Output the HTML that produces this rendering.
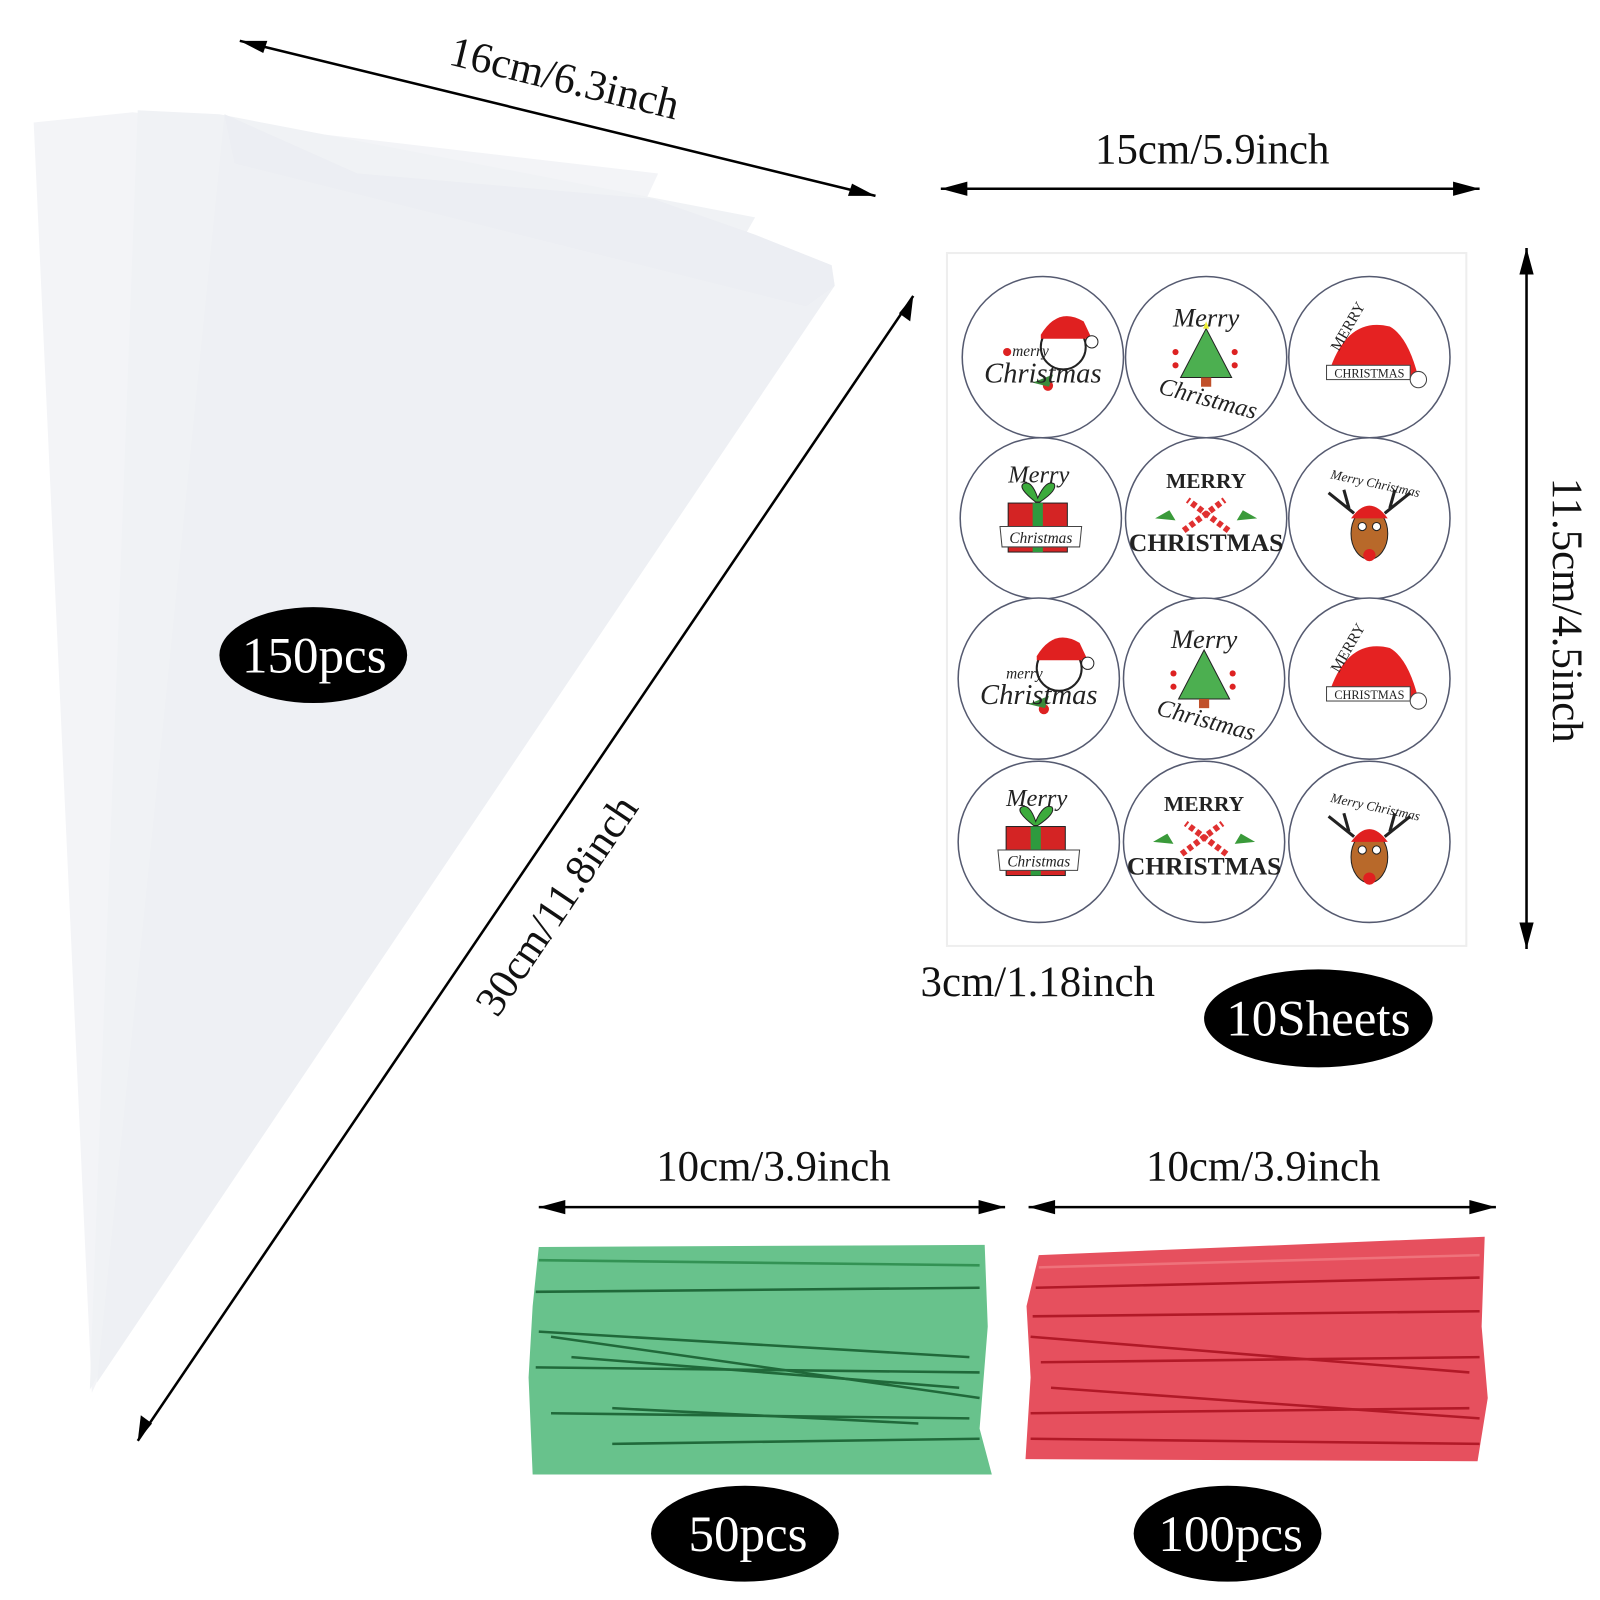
<!DOCTYPE html>
<html><head><meta charset="utf-8"><style>
html,body{margin:0;padding:0;background:#fff;width:1600px;height:1600px;overflow:hidden}
svg{display:block}
text{font-family:"Liberation Serif",serif}
</style></head><body>
<svg width="1600" height="1600" viewBox="0 0 1568 1568" xmlns="http://www.w3.org/2000/svg">
<rect width="1568" height="1568" fill="#fff"/>
<!-- cone bags -->
<polygon points="33,120 130,110 645,170 90,1365" fill="#f3f4f7"/>
<polygon points="135,108 215,112 740,213 88,1362" fill="#f0f2f5"/>
<polygon points="220,112 350,170 640,195 740,230 815,260 818,280 95,1355" fill="#eef0f4"/>
<polygon points="220,112 350,170 640,195 740,230 815,260 818,280 790,300 230,160" fill="#e9ecf1" opacity="0.5"/>
<!-- dimension arrows -->
<g stroke="#000" stroke-width="2.5" fill="none">
<line x1="235" y1="40" x2="858" y2="192"/>
<line x1="895" y1="290" x2="135" y2="1412"/>
<line x1="922" y1="185" x2="1450" y2="185"/>
<line x1="1496" y1="243" x2="1496" y2="930"/>
<line x1="940" y1="915" x2="1103" y2="915"/>
<line x1="528" y1="1183" x2="985" y2="1183"/>
<line x1="1008" y1="1183" x2="1466" y2="1183"/>
</g>
<g fill="#000">
<polygon points="235,40 262,40 258,52"/><polygon points="858,192 831,192 835,180"/>
<polygon points="895,290 892,315 881,307"/><polygon points="135,1412 138,1387 149,1395"/>
<polygon points="922,185 948,178 948,192"/><polygon points="1450,185 1424,178 1424,192"/>
<polygon points="1496,243 1489,269 1503,269"/><polygon points="1496,930 1489,904 1503,904"/>
<polygon points="940,915 962,909 962,921"/><polygon points="1103,915 1081,909 1081,921"/>
<polygon points="528,1183 554,1176 554,1190"/><polygon points="985,1183 959,1176 959,1190"/>
<polygon points="1008,1183 1034,1176 1034,1190"/><polygon points="1466,1183 1440,1176 1440,1190"/>
</g>
<g font-size="42" fill="#111" text-anchor="middle">
<text transform="translate(550,90) rotate(13.7)">16cm/6.3inch</text>
<text transform="translate(557,895) rotate(-56)">30cm/11.8inch</text>
<text x="1188" y="160">15cm/5.9inch</text>
<text transform="translate(1522,598) rotate(90)">11.5cm/4.5inch</text>
<text x="1017" y="976">3cm/1.18inch</text>
<text x="758" y="1157">10cm/3.9inch</text>
<text x="1238" y="1157">10cm/3.9inch</text>
</g>
<!-- sticker sheet -->
<rect x="928" y="248" width="509" height="679" fill="#fff" stroke="#eee" stroke-width="2"/>
<g fill="#fff" stroke="#555a70" stroke-width="1.5">
<circle cx="1022" cy="350" r="79"/><circle cx="1182" cy="350" r="79"/><circle cx="1342" cy="350" r="79"/>
<circle cx="1020" cy="508" r="79"/><circle cx="1182" cy="508" r="79"/><circle cx="1342" cy="508" r="79"/>
<circle cx="1018" cy="665" r="79"/><circle cx="1180" cy="665" r="79"/><circle cx="1342" cy="665" r="79"/>
<circle cx="1018" cy="825" r="79"/><circle cx="1180" cy="825" r="79"/><circle cx="1342" cy="825" r="79"/>
</g>
<g transform="translate(1022,350)">
<circle cx="20" cy="-10" r="22" fill="#fff" stroke="#222" stroke-width="2"/>
<path d="M-2,-22 Q15,-50 40,-35 L48,-18 L-2,-18 z" fill="#e02020"/><circle cx="48" cy="-15" r="6" fill="#fff" stroke="#222"/>
<circle cx="-35" cy="-5" r="4" fill="#d22"/><circle cx="5" cy="28" r="5" fill="#d22"/><path d="M-10,25 l20,-8 l-4,12z" fill="#3a8a3a"/>
<text x="-30" y="-1" font-size="15" font-style="italic" fill="#222">merry</text>
<text x="0" y="25" font-size="28" font-style="italic" fill="#222" text-anchor="middle">Christmas</text>
</g>
<g transform="translate(1018,665)">
<circle cx="20" cy="-10" r="22" fill="#fff" stroke="#222" stroke-width="2"/>
<path d="M-2,-22 Q15,-50 40,-35 L48,-18 L-2,-18 z" fill="#e02020"/><circle cx="48" cy="-15" r="6" fill="#fff" stroke="#222"/>
<circle cx="5" cy="30" r="5" fill="#d22"/><path d="M-10,25 l20,-8 l-4,12z" fill="#3a8a3a"/>
<text x="-32" y="0" font-size="15" font-style="italic" fill="#222">merry</text>
<text x="0" y="25" font-size="28" font-style="italic" fill="#222" text-anchor="middle">Christmas</text>
</g>
<g transform="translate(1182,350)">
<text x="0" y="-30" font-size="26" font-style="italic" fill="#222" text-anchor="middle">Merry</text>
<polygon points="0,-28 -25,20 25,20" fill="#4caf50" stroke="#222"/><rect x="-5" y="20" width="10" height="9" fill="#c0502a"/>
<polygon points="0,-35 3,-28 -3,-28" fill="#ee3"/>
<circle cx="-30" cy="-5" r="3" fill="#d22"/><circle cx="28" cy="-5" r="3" fill="#d22"/><circle cx="-30" cy="8" r="3" fill="#d22"/><circle cx="28" cy="8" r="3" fill="#d22"/>
<text transform="translate(0,48) rotate(15)" font-size="24" font-style="italic" fill="#222" text-anchor="middle">Christmas</text>
</g>
<g transform="translate(1180,665)">
<text x="0" y="-30" font-size="26" font-style="italic" fill="#222" text-anchor="middle">Merry</text>
<polygon points="0,-28 -25,20 25,20" fill="#4caf50" stroke="#222"/><rect x="-5" y="20" width="10" height="9" fill="#c0502a"/>
<circle cx="-30" cy="-5" r="3" fill="#d22"/><circle cx="28" cy="-5" r="3" fill="#d22"/><circle cx="-30" cy="8" r="3" fill="#d22"/><circle cx="28" cy="8" r="3" fill="#d22"/>
<text transform="translate(0,48) rotate(15)" font-size="24" font-style="italic" fill="#222" text-anchor="middle">Christmas</text>
</g>
<g transform="translate(1342,350)">
<path d="M-38,10 Q-20,-40 20,-30 Q38,-20 48,20 L-38,10 z" fill="#e52222"/>
<rect x="-42" y="8" width="82" height="14" fill="#fff" stroke="#444"/>
<circle cx="48" cy="22" r="8" fill="#fff" stroke="#444"/>
<text transform="translate(-30,-5) rotate(-60)" font-size="15" fill="#222">MERRY</text>
<text x="0" y="20" font-size="12" fill="#222" text-anchor="middle">CHRISTMAS</text>
</g>
<g transform="translate(1342,665)">
<path d="M-38,10 Q-20,-40 20,-30 Q38,-20 48,20 L-38,10 z" fill="#e52222"/>
<rect x="-42" y="8" width="82" height="14" fill="#fff" stroke="#444"/>
<circle cx="48" cy="22" r="8" fill="#fff" stroke="#444"/>
<text transform="translate(-30,-5) rotate(-60)" font-size="15" fill="#222">MERRY</text>
<text x="0" y="20" font-size="12" fill="#222" text-anchor="middle">CHRISTMAS</text>
</g>
<g transform="translate(1020,508)">
<text x="-2" y="-35" font-size="24" font-style="italic" fill="#222" text-anchor="middle">Merry</text>
<rect x="-32" y="-15" width="58" height="48" fill="#d42424" stroke="#222"/><rect x="-8" y="-15" width="10" height="48" fill="#2e9a3e"/>
<path d="M-5,-16 q-18,-14 -12,-18 q8,-4 14,14 q8,-18 16,-14 q4,6 -14,18z" fill="#3cab3c" stroke="#222"/>
<path d="M-40,8 L40,8 L38,28 L-38,28z" fill="#fff" stroke="#444"/>
<text x="0" y="24" font-size="15" font-style="italic" fill="#222" text-anchor="middle">Christmas</text>
</g>
<g transform="translate(1018,825)">
<text x="-2" y="-35" font-size="24" font-style="italic" fill="#222" text-anchor="middle">Merry</text>
<rect x="-32" y="-15" width="58" height="48" fill="#d42424" stroke="#222"/><rect x="-8" y="-15" width="10" height="48" fill="#2e9a3e"/>
<path d="M-5,-16 q-18,-14 -12,-18 q8,-4 14,14 q8,-18 16,-14 q4,6 -14,18z" fill="#3cab3c" stroke="#222"/>
<path d="M-40,8 L40,8 L38,28 L-38,28z" fill="#fff" stroke="#444"/>
<text x="0" y="24" font-size="15" font-style="italic" fill="#222" text-anchor="middle">Christmas</text>
</g>
<g transform="translate(1182,508)">
<text x="0" y="-30" font-size="21" font-weight="bold" fill="#222" text-anchor="middle">MERRY</text>
<path d="M-22,12 L18,-18 M22,12 L-18,-18" stroke="#e03030" stroke-width="6" stroke-dasharray="5,3"/>
<path d="M-50,0 l14,-8 l6,10z M50,0 l-14,-8 l-6,10z" fill="#3a9a3a"/>
<text x="0" y="32" font-size="25" font-weight="bold" fill="#222" text-anchor="middle">CHRISTMAS</text>
</g>
<g transform="translate(1180,825)">
<text x="0" y="-30" font-size="21" font-weight="bold" fill="#222" text-anchor="middle">MERRY</text>
<path d="M-22,12 L18,-18 M22,12 L-18,-18" stroke="#e03030" stroke-width="6" stroke-dasharray="5,3"/>
<path d="M-50,0 l14,-8 l6,10z M50,0 l-14,-8 l-6,10z" fill="#3a9a3a"/>
<text x="0" y="32" font-size="25" font-weight="bold" fill="#222" text-anchor="middle">CHRISTMAS</text>
</g>
<g transform="translate(1342,508)">
<text transform="translate(5,-30) rotate(12)" font-size="13" font-style="italic" fill="#222" text-anchor="middle">Merry Christmas</text>
<path d="M-15,-5 l-25,-20 M-20,-10 l-5,-18 M15,-5 l25,-20 M20,-10 l5,-18" stroke="#222" stroke-width="3"/>
<ellipse cx="0" cy="15" rx="18" ry="25" fill="#b8692a" stroke="#222"/>
<path d="M-18,0 Q0,-25 18,0z" fill="#e02020"/>
<circle cx="-7" cy="8" r="4" fill="#fff" stroke="#222"/><circle cx="7" cy="8" r="4" fill="#fff" stroke="#222"/>
<circle cx="0" cy="36" r="6" fill="#e02020"/>
</g>
<g transform="translate(1342,825)">
<text transform="translate(5,-30) rotate(12)" font-size="13" font-style="italic" fill="#222" text-anchor="middle">Merry Christmas</text>
<path d="M-15,-5 l-25,-20 M-20,-10 l-5,-18 M15,-5 l25,-20 M20,-10 l5,-18" stroke="#222" stroke-width="3"/>
<ellipse cx="0" cy="15" rx="18" ry="25" fill="#b8692a" stroke="#222"/>
<path d="M-18,0 Q0,-25 18,0z" fill="#e02020"/>
<circle cx="-7" cy="8" r="4" fill="#fff" stroke="#222"/><circle cx="7" cy="8" r="4" fill="#fff" stroke="#222"/>
<circle cx="0" cy="36" r="6" fill="#e02020"/>
</g>
<!-- green ties -->
<polygon points="528,1222 965,1220 968,1300 960,1400 972,1445 522,1445 518,1350 522,1280" fill="#68c28c"/>
<g stroke="#145a2c" stroke-width="2.5" fill="none" opacity="0.85">
<line x1="525" y1="1266" x2="960" y2="1262"/>
<line x1="528" y1="1305" x2="950" y2="1330"/>
<line x1="540" y1="1310" x2="960" y2="1370"/>
<line x1="560" y1="1330" x2="940" y2="1360"/>
<line x1="525" y1="1340" x2="960" y2="1345"/>
<line x1="540" y1="1385" x2="950" y2="1390"/>
<line x1="600" y1="1415" x2="960" y2="1410"/>
<line x1="528" y1="1235" x2="960" y2="1240" stroke="#2a8a4a"/>
<line x1="600" y1="1380" x2="900" y2="1395"/>
</g>
<!-- red ties -->
<polygon points="1018,1230 1455,1212 1452,1300 1458,1370 1448,1432 1005,1430 1010,1350 1006,1280" fill="#e6505e"/>
<g stroke="#a8101e" stroke-width="2.5" fill="none" opacity="0.85">
<line x1="1015" y1="1262" x2="1450" y2="1252"/>
<line x1="1012" y1="1290" x2="1450" y2="1285"/>
<line x1="1010" y1="1310" x2="1440" y2="1345"/>
<line x1="1020" y1="1335" x2="1450" y2="1330"/>
<line x1="1030" y1="1360" x2="1450" y2="1390"/>
<line x1="1010" y1="1385" x2="1440" y2="1380"/>
<line x1="1010" y1="1410" x2="1450" y2="1415"/>
<line x1="1018" y1="1242" x2="1450" y2="1230" stroke="#f07880"/>
</g>
<!-- labels -->
<g fill="#000"><ellipse cx="307" cy="642" rx="92" ry="47"/><ellipse cx="1292" cy="998" rx="112" ry="48"/><ellipse cx="730" cy="1503" rx="92" ry="47"/><ellipse cx="1203" cy="1503" rx="92" ry="47"/></g>
<g fill="#fff" font-size="50" text-anchor="middle">
<text x="308" y="659">150pcs</text>
<text x="1292" y="1015">10Sheets</text>
<text x="733" y="1520">50pcs</text>
<text x="1206" y="1520">100pcs</text>
</g>
</svg>
</body></html>
